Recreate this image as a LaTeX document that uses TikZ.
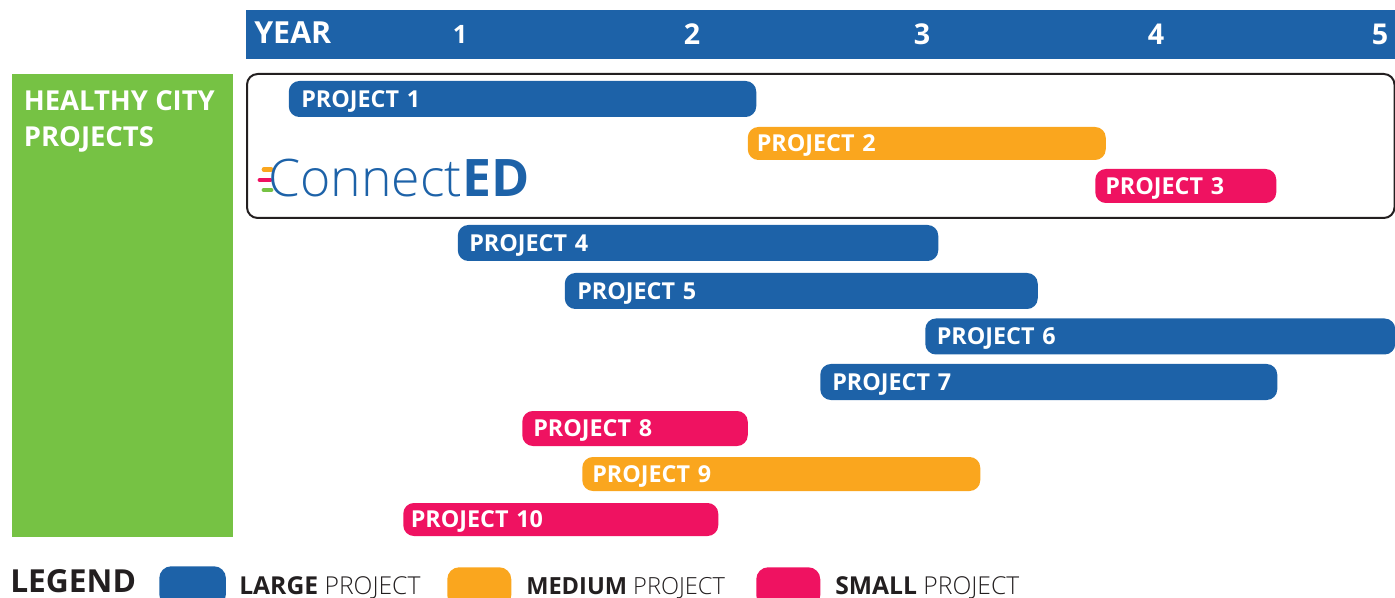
\documentclass[tikz,border=0pt]{standalone}
\usepackage{fontspec}
\setmainfont{Open Sans}
\definecolor{cblue}{HTML}{1D62A8}
\definecolor{corange}{HTML}{FAA61E}
\definecolor{cpink}{HTML}{EF1261}
\definecolor{cgreen}{HTML}{76C244}
\definecolor{cdark}{HTML}{231F20}
\newfontfamily\lightf{Open Sans Light}
\newcommand{\projbar}[8]{% name colour x1 x2 y1 y2 pad text
  \pgfmathsetmacro{\wid}{(#4-#3)*0.75}%
  \pgfmathsetmacro{\hei}{(#6-#5)*0.75}%
  \pgfmathsetmacro{\ym}{(#5+#6)/2}%
  \pgfmathsetmacro{\pd}{#7*0.75}%
  \node[barbox, fill=#2, minimum width=\wid pt, minimum height=\hei pt, text width=\wid pt, inner xsep=0pt, anchor=west] (#1) at (#3,\ym) {\hspace*{\pd pt}#8};%
}
\tikzset{
  barbox/.style={rounded corners=8pt, text=white, font=\bfseries\fontsize{17.5}{18}\selectfont, align=left, inner ysep=0pt, text height=12.5pt, text depth=0pt},
  hdr/.style={text=white, anchor=base},
  legendswatch/.style={rounded corners=9pt},
  legendtext/.style={text=cdark, font=\fontsize{18.5}{20}\selectfont, anchor=base west, inner sep=0pt},
}
\begin{document}
\begin{tikzpicture}[x=0.75pt,y=-0.75pt]
\useasboundingbox (0,0) rectangle (1395,598);
\begin{scope}
\clip (0,0) rectangle (1395,598);
\fill[cblue] (246,10) rectangle (1395,59);
\fill[cgreen] (12,74) rectangle (233,537);
\draw[cdark, line width=1.5pt, rounded corners=8pt] (247,74) rectangle (1394.5,218);
\end{scope}
\node[hdr, font=\bfseries\fontsize{22.8}{24}\selectfont, anchor=base west, inner sep=0pt] (year) at (254,44) {YEAR};
\node[hdr, font=\bfseries\fontsize{19}{22}\selectfont] (y1) at (460,44) {1};
\node[hdr, font=\bfseries\fontsize{21.5}{24}\selectfont] (y2) at (692,45) {2};
\node[hdr, font=\bfseries\fontsize{21.5}{24}\selectfont] (y3) at (922,45) {3};
\node[hdr, font=\bfseries\fontsize{21.5}{24}\selectfont] (y4) at (1156,45) {4};
\node[hdr, font=\bfseries\fontsize{21.5}{24}\selectfont] (y5) at (1380,45) {5};
\node[text=white, font=\bfseries\fontsize{20.6}{27}\selectfont, anchor=north west, align=left, inner sep=0pt] (hc) at (23.5,90) {HEALTHY CITY\\PROJECTS};
\begin{scope}
\clip (0,0) rectangle (1395,598);
\projbar{p1}{cblue}{288.5}{756}{81}{117}{12.5}{PROJECT 1}
\projbar{p2}{corange}{747.5}{1105.5}{127}{160}{9}{PROJECT 2}
\projbar{p3}{cpink}{1095}{1276}{169}{203}{10}{PROJECT 3}
\projbar{p4}{cblue}{457.5}{938}{225}{261}{11.5}{PROJECT 4}
\projbar{p5}{cblue}{564.5}{1037.5}{273}{309}{12.5}{PROJECT 5}
\projbar{p6}{cblue}{925}{1395}{318.5}{354.5}{11.5}{PROJECT 6}
\projbar{p7}{cblue}{820}{1277}{364}{400}{12}{PROJECT 7}
\projbar{p8}{cpink}{522}{747.5}{411}{446}{11}{PROJECT 8}
\projbar{p9}{corange}{582}{980}{457}{491}{10}{PROJECT 9}
\projbar{p10}{cpink}{403}{718}{503}{536}{7.5}{PROJECT 10}
\node[fill=cblue, legendswatch, minimum width=50pt, minimum height=30pt, inner sep=0pt, anchor=north west] (s1) at (159,566) {};
\node[fill=corange, legendswatch, minimum width=48pt, minimum height=30pt, inner sep=0pt, anchor=north west] (s2) at (447,567) {};
\node[fill=cpink, legendswatch, minimum width=48pt, minimum height=30pt, inner sep=0pt, anchor=north west] (s3) at (756,567) {};
\end{scope}
\draw[corange, line width=3.6pt, line cap=round] (264,169.5) -- (271,169.5);
\draw[cpink, line width=3.6pt, line cap=round] (260,180) -- (270,180);
\draw[cgreen, line width=3.6pt, line cap=round] (264,190) -- (271,190);
\node[text=cblue, anchor=base west, inner sep=0pt, font=\fontsize{38.8}{42}\selectfont] (logo) at (268,197) {{\lightf Connect}\textbf{ED}};
\node[text=cdark, font=\bfseries\fontsize{23.8}{26}\selectfont, anchor=base west, inner sep=0pt] (leg) at (10,592.5) {LEGEND};
\node[legendtext] (t1) at (239,594) {\textbf{LARGE} {\lightf PROJECT}};
\node[legendtext, font=\fontsize{17.7}{20}\selectfont] (t2) at (526,594) {\textbf{MEDIUM} {\lightf PROJECT}};
\node[legendtext] (t3) at (835,594) {\textbf{SMALL} {\lightf PROJECT}};
\end{tikzpicture}
\end{document}
